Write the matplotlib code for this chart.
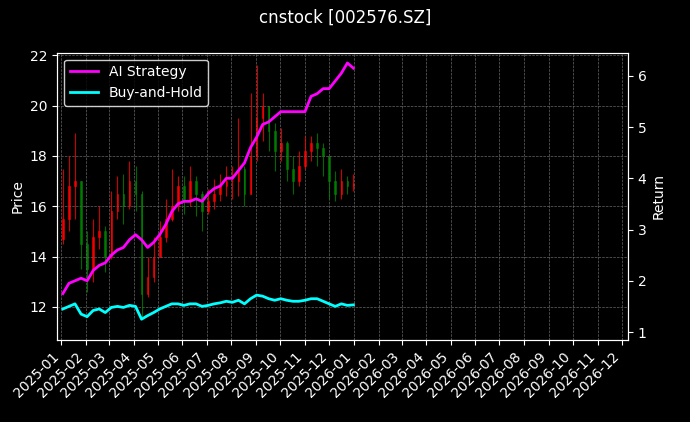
import matplotlib
matplotlib.use("Agg")
import matplotlib.pyplot as plt
import matplotlib.dates as mdates
import numpy as np
import pandas as pd

close = [15.5,16.8,17.0,14.5, 13.5,14.8,15.0,14.0, 15.8,16.5,16.0,17.0, 16.5,12.5,13.2,14.0,
         14.8,15.5,16.0,16.8, 16.2,17.0,16.5,15.8, 16.2,16.5,16.8,17.0, 17.0,17.5,16.5,18.0,19.5,
         20.0,19.0,18.2,18.5, 17.5,17.0,17.6,18.2, 18.5,18.3,18.0,17.0, 16.5,17.0,16.8,16.9]
high = [17.5,18.0,18.9,17.0, 15.0,15.5,16.0,15.2, 16.6,17.2,17.3,17.8, 17.6,16.6,14.0,14.8,
        15.4,16.3,17.5,17.2, 17.2,17.6,17.2,16.6, 16.7,17.1,17.3,17.6, 17.6,19.5,17.6,20.5,21.6,
        20.5,20.0,19.3,19.1, 18.6,18.0,18.2,18.8, 18.8,18.9,18.5,17.9, 17.4,17.5,17.2,17.3]
low = [14.5,15.0,15.5,13.5, 12.6,13.0,14.3,13.4, 13.9,15.5,15.3,15.9, 15.8,11.6,12.4,13.0,
       14.0,14.6,15.4,15.8, 15.7,16.0,15.6,15.0, 15.7,15.9,16.2,16.4, 16.3,16.4,16.0,16.5,17.8,
       18.6,18.2,17.4,17.8, 17.0,16.5,16.8,17.5, 17.8,17.6,17.2,16.3, 16.2,16.3,16.5,16.6]
strategy = [1.75,1.95,2.0,2.05, 2.0,2.2,2.3,2.35, 2.5,2.6,2.65,2.8, 2.9,2.8,2.65,2.75,
            2.9,3.1,3.35,3.5, 3.55,3.55,3.6,3.55, 3.7,3.8,3.85,4.0, 4.0,4.15,4.3,4.6,4.8,
            5.05,5.1,5.2,5.3, 5.3,5.3,5.3,5.3, 5.6,5.65,5.75,5.75, 5.9,6.05,6.25,6.15]
buyhold = [1.45,1.5,1.55,1.35, 1.3,1.42,1.45,1.38, 1.48,1.5,1.48,1.52, 1.5,1.25,1.32,1.38,
           1.45,1.5,1.55,1.55, 1.52,1.55,1.55,1.5, 1.52,1.55,1.57,1.6, 1.58,1.62,1.55,1.65,1.72,
           1.7,1.65,1.62,1.65, 1.62,1.6,1.6,1.62, 1.65,1.65,1.6,1.55, 1.5,1.55,1.52,1.53]
opens = [close[0] - 0.8] + close[:-1]

dates = pd.date_range("2025-01-03", "2025-12-31", periods=len(close))
x = mdates.date2num(dates)

plt.style.use("dark_background")
fig, ax = plt.subplots(figsize=(6.9, 4.22), dpi=100)
fig.patch.set_facecolor("black")
ax.set_facecolor("black")
for xi, o, h, l, c in zip(x, opens, high, low, close):
    col = "red" if c >= o else "green"
    ax.vlines(xi, l, h, color=col, linewidth=0.8, alpha=0.8)
    ax.bar(xi, c - o, bottom=o, width=2.0, color=col, edgecolor=col, linewidth=0.5, alpha=0.8)
ax.set_ylabel("Price")
ax.set_ylim(10.7, 22.1)
ax.grid(True, color="#666666", linestyle="--", linewidth=0.5)

ax2 = ax.twinx()
ax2.plot(x, strategy, color="magenta", linewidth=2, label="AI Strategy")
ax2.plot(x, buyhold, color="cyan", linewidth=2, label="Buy-and-Hold")
ax2.set_ylim(0.85, 6.45)
ax2.set_ylabel("Return")
ax2.legend(loc="upper left", facecolor="black", edgecolor="white")

ax.set_xlim(mdates.datestr2num("2024-12-27"), mdates.datestr2num("2026-12-08"))
ax.xaxis.set_major_locator(mdates.MonthLocator())
ax.xaxis.set_major_formatter(mdates.DateFormatter("%Y-%m"))
plt.setp(ax.get_xticklabels(), rotation=45, ha="right")
fig.suptitle("cnstock [002576.SZ]")
fig.subplots_adjust(left=0.083, right=0.91, top=0.875, bottom=0.195)
fig.savefig("out.png", dpi=100, facecolor="black")
